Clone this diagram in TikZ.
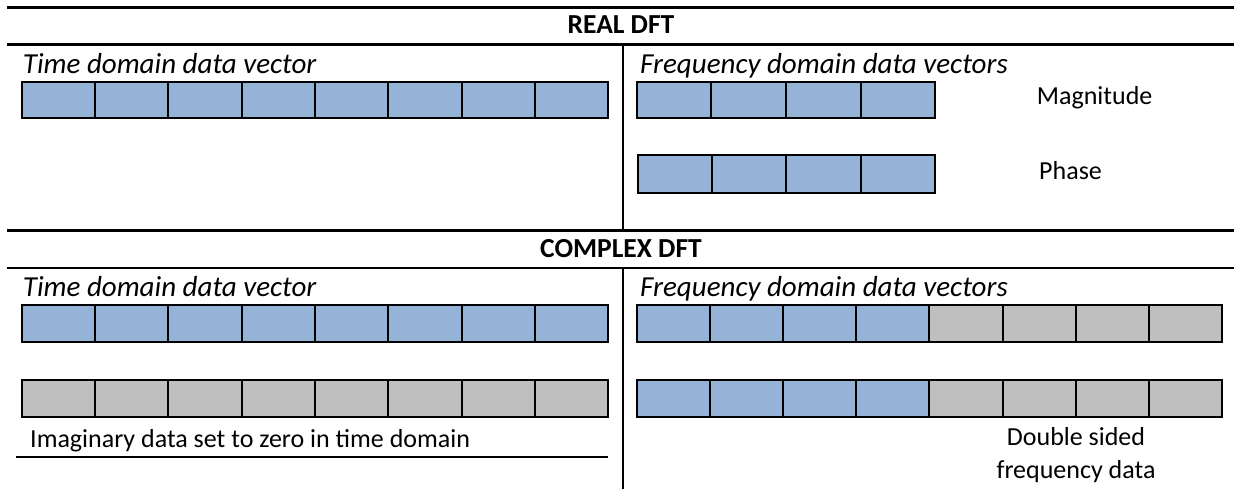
\documentclass[tikz,border=0pt]{standalone}
\usepackage{fontspec}
\setmainfont{Carlito}
\definecolor{cellblue}{HTML}{95B3D7}
\definecolor{cellgray}{HTML}{BFBFBF}
\begin{document}
\begin{tikzpicture}[x=1pt,y=-1pt,
  rule/.style={line width=2.5pt},
  thinrule/.style={line width=2pt},
  cellbox/.style={draw=black, line width=2pt, inner sep=0pt, outer sep=0pt, anchor=north west},
  blue cell/.style={cellbox, fill=cellblue},
  gray cell/.style={cellbox, fill=cellgray},
  ilabel/.style={inner sep=0pt, anchor=base west, font=\fontsize{29}{34}\selectfont\itshape},
  plabel/.style={inner sep=0pt, anchor=base west, font=\fontsize{26}{33}\selectfont},
  heading/.style={inner sep=0pt, anchor=base, font=\fontsize{27.5}{32}\selectfont\bfseries}
]
\useasboundingbox (0,0) rectangle (1234,489);

% horizontal rules of the table
\coordinate (r1l) at (7,7.5);    \coordinate (r1r) at (1234,7.5);
\coordinate (r2l) at (7,44.5);   \coordinate (r2r) at (1234,44.5);
\coordinate (r3l) at (7,230.5);  \coordinate (r3r) at (1234,230.5);
\coordinate (r4l) at (7,268);    \coordinate (r4r) at (1234,268);
\draw[rule] (r1l) -- (r1r);
\draw[rule] (r2l) -- (r2r);
\draw[rule] (r3l) -- (r3r);
\draw[rule] (r4l) -- (r4r);

% column separators
\coordinate (s1t) at (623,44.5);  \coordinate (s1b) at (623,230.5);
\coordinate (s2t) at (623,268);   \coordinate (s2b) at (623,489);
\draw[thinrule] (s1t) -- (s1b);
\draw[thinrule] (s2t) -- (s2b);

% headings
\node[heading] (realhead) at (621,34) {REAL DFT};
\node[heading] (cplxhead) at (621,258) {COMPLEX DFT};

% real DFT
\node[ilabel] (rtime) at (22.7,73.3) {Time domain data vector};
\node[ilabel] (rfreq) at (640,73.3) {Frequency domain data vectors};
\foreach \i in {0,...,7}
  \node[blue cell, minimum width=73.33pt, minimum height=36pt] (rt\i) at ({21.7+73.33*\i},82) {};
\foreach \i in {0,...,3}
  \node[blue cell, minimum width=74.6pt, minimum height=36pt] (rm\i) at ({636.7+74.6*\i},82) {};
\foreach \i in {0,...,3}
  \node[blue cell, minimum width=74.4pt, minimum height=38pt] (rp\i) at ({637.5+74.4*\i},155) {};
\node[plabel] (mag) at (1036.7,105) {Magnitude};
\node[plabel] (phase) at (1039,179.3) {Phase};

% complex DFT
\node[ilabel] (ctime) at (22.7,296.5) {Time domain data vector};
\node[ilabel] (cfreq) at (640,296.5) {Frequency domain data vectors};
\foreach \i in {0,...,7}
  \node[blue cell, minimum width=73.33pt, minimum height=37pt] (ctr\i) at ({21.7+73.33*\i},305) {};
\foreach \i in {0,...,7}
  \node[gray cell, minimum width=73.33pt, minimum height=37pt] (cti\i) at ({21.7+73.33*\i},380) {};
\foreach \i in {0,...,3}
  \node[blue cell, minimum width=73.1pt, minimum height=37pt] (cfa\i) at ({637+73.1*\i},305) {};
\foreach \i in {4,...,7}
  \node[gray cell, minimum width=73.1pt, minimum height=37pt] (cfa\i) at ({637+73.1*\i},305) {};
\foreach \i in {0,...,3}
  \node[blue cell, minimum width=73.1pt, minimum height=37pt] (cfb\i) at ({637+73.1*\i},380) {};
\foreach \i in {4,...,7}
  \node[gray cell, minimum width=73.1pt, minimum height=37pt] (cfb\i) at ({637+73.1*\i},380) {};

\node[plabel] (imag) at (30,447) {Imaginary data set to zero in time domain};
\coordinate (ul) at (16,457); \coordinate (ur) at (608.3,457);
\draw[thinrule] (ul) -- (ur);

\node[plabel, anchor=base] (dsided) at (1076,445) {Double sided};
\node[plabel, anchor=base] (fdata) at (1076,478) {frequency data};
\end{tikzpicture}
\end{document}
